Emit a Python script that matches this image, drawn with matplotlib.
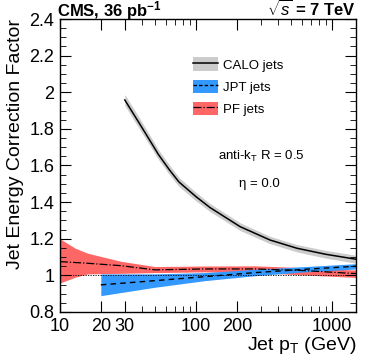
import matplotlib
matplotlib.use("Agg")
import matplotlib.pyplot as plt
from matplotlib.patches import Patch
from matplotlib.lines import Line2D
from matplotlib.ticker import FixedLocator, NullFormatter, MultipleLocator

plt.rcParams["font.family"] = ["Liberation Sans", "DejaVu Sans"]
plt.rcParams["mathtext.fontset"] = "custom"
plt.rcParams["mathtext.rm"] = "Liberation Sans"
plt.rcParams["mathtext.it"] = "Liberation Sans:italic"
plt.rcParams["mathtext.bf"] = "Liberation Sans:bold"

# ── data ──────────────────────────────────────────────────────────────────────
calo_pt = [30, 39, 46, 53, 64, 75, 100, 127, 211, 350, 552, 900, 1500]
calo_val = [1.958, 1.822, 1.735, 1.66, 1.575, 1.51, 1.43, 1.37, 1.266, 1.193,
            1.148, 1.115, 1.088]
calo_err = [0.03, 0.03, 0.028, 0.027, 0.026, 0.025, 0.023, 0.022, 0.021, 0.02,
            0.02, 0.021, 0.022]

jpt_pt = [20, 50, 116, 272, 630, 1370, 1500]
jpt_val = [0.948, 0.971, 0.993, 1.015, 1.033, 1.048, 1.050]
jpt_lo = [0.889, 0.935, 0.971, 0.998, 1.019, 1.033, 1.035]
jpt_hi = [1.008, 1.008, 1.015, 1.033, 1.048, 1.062, 1.064]

pf_pt = [10, 13, 16, 28, 50, 116, 272, 630, 1370, 1500]
pf_val = [1.075, 1.07, 1.066, 1.053, 1.03, 1.035, 1.035, 1.026, 1.011, 1.01]
pf_lo = [0.958, 0.99, 1.008, 1.011, 1.015, 1.019, 1.015, 1.002, 0.99, 0.988]
pf_hi = [1.20, 1.148, 1.121, 1.077, 1.048, 1.051, 1.052, 1.042, 1.03, 1.03]

xticks = [10, 20, 30, 100, 200, 1000]
yticks = [0.8, 1.0, 1.2, 1.4, 1.6, 1.8, 2.0, 2.2, 2.4]
ytick_labels = ["0.8", "1", "1.2", "1.4", "1.6", "1.8", "2", "2.2", "2.4"]

# ── plot ──────────────────────────────────────────────────────────────────────
fig = plt.figure(figsize=(3.74, 3.59), dpi=100)
ax = fig.add_axes([0.160, 0.131, 0.792, 0.816])

ax.fill_between(pf_pt, pf_lo, pf_hi, color="#ff6666", lw=0)
ax.fill_between(jpt_pt, jpt_lo, jpt_hi, color="#3399ff", lw=0)
ax.fill_between(calo_pt, [v - e for v, e in zip(calo_val, calo_err)],
                [v + e for v, e in zip(calo_val, calo_err)], color="#cccccc", lw=0)

ax.plot([10, 1500], [1, 1], color="black", lw=0.6, ls=(0, (1.5, 1.5)))
ax.plot(pf_pt, pf_val, color="black", lw=0.9, ls="-.")
ax.plot(jpt_pt, jpt_val, color="black", lw=1.0, ls=(0, (4, 3)))
ax.plot(calo_pt, calo_val, color="black", lw=1.1)

ax.set_xscale("log")
ax.set_xlim(10, 1500)
ax.set_ylim(0.8, 2.4)
ax.xaxis.set_major_locator(FixedLocator(xticks))
ax.set_xticklabels([str(t) for t in xticks])
ax.xaxis.set_minor_locator(FixedLocator([40, 50, 60, 70, 80, 90, 300, 400, 500, 600, 700, 800, 900]))
ax.xaxis.set_minor_formatter(NullFormatter())
ax.set_yticks(yticks)
ax.set_yticklabels(ytick_labels)
ax.yaxis.set_minor_locator(MultipleLocator(0.05))
ax.tick_params(which="both", direction="in", top=True, right=True, labelsize=13)
ax.tick_params(which="major", length=8, width=0.8, pad=4)
ax.tick_params(which="minor", length=4, width=0.6)
for s in ax.spines.values():
    s.set_linewidth(1.0)

ax.set_ylabel("Jet Energy Correction Factor", fontsize=14, loc="top")
ax.set_xlabel("Jet p$_{\\mathrm{T}}$ (GeV)", fontsize=14, loc="right", labelpad=0)

fig.text(0.153, 1 - 16 / 359, "CMS, 36 pb$^{\\mathbf{-1}}$", fontsize=12,
         fontweight="bold", ha="left", va="baseline")
fig.text(0.952, 1 - 16 / 359, "$\\sqrt{s}$ = 7 TeV", fontsize=12,
         fontweight="bold", ha="right", va="baseline")

handles = [
    (Patch(color="#cccccc", lw=0), Line2D([], [], color="black", lw=1.1)),
    (Patch(color="#3399ff", lw=0), Line2D([], [], color="black", lw=1.0, ls=(0, (2.5, 1.5)))),
    (Patch(color="#ff6666", lw=0), Line2D([], [], color="black", lw=0.9, ls="-.")),
]
ax.legend(handles, ["CALO jets", "JPT jets", "PF jets"], loc="upper left",
          bbox_to_anchor=(0.449, 0.869), frameon=False, fontsize=9.5,
          borderpad=0, borderaxespad=0,
          handlelength=1.9, handleheight=1.2, labelspacing=0.6, handletextpad=0.4)

ax.text(0.679, 0.532, "anti-k$_{\\mathrm{T}}$ R = 0.5", transform=ax.transAxes,
        fontsize=9.5, ha="center", va="center")
ax.text(0.672, 0.437, "η = 0.0", transform=ax.transAxes,
        fontsize=9.5, ha="center", va="center")

fig.savefig("out.png", dpi=100)
